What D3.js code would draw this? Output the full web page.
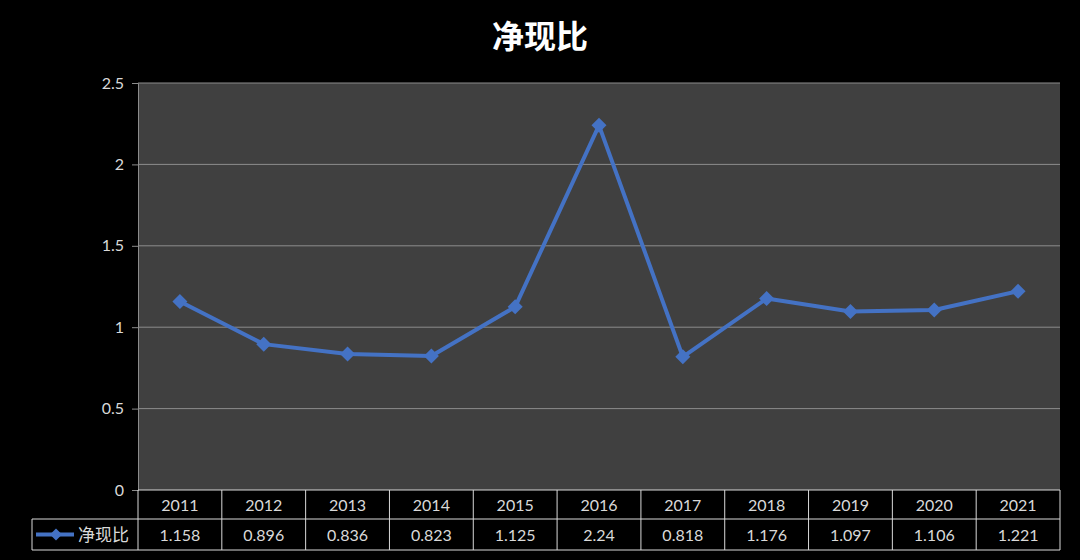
<!DOCTYPE html>
<html><head><meta charset="utf-8">
<script src="https://cdn.jsdelivr.net/npm/d3@7"></script>
<style>
html,body{margin:0;padding:0;background:#000;}
svg{display:block;}
</style></head>
<body>
<svg id="chart" width="1080" height="560"></svg>
<script>
const title = "净现比";
const seriesName = "净现比";
const categories = ["2011","2012","2013","2014","2015","2016","2017","2018","2019","2020","2021"];
const values = [1.158,0.896,0.836,0.823,1.125,2.24,0.818,1.176,1.097,1.106,1.221];
const valueLabels = ["1.158","0.896","0.836","0.823","1.125","2.24","0.818","1.176","1.097","1.106","1.221"];
const yTicks = [0,0.5,1,1.5,2,2.5];

const svg = d3.select("#chart");
const W = 1080, H = 560;
const L = 138, R = 1060, T = 83, B = 490;
const row1 = 519, row2 = 550, legendLeft = 32;
const numFont = "Lato, 'Open Sans', 'Noto Sans', sans-serif";
const cjkFont = "'Noto Sans CJK SC', sans-serif";
const textColor = "#d9d9d9";
const lineColor = "#4472C4";

svg.append("rect").attr("width",W).attr("height",H).attr("fill","#000");

svg.append("text").attr("x",540).attr("y",48).attr("text-anchor","middle")
  .attr("fill","#ffffff").attr("font-family",cjkFont).attr("font-weight","bold")
  .attr("font-size",32).text(title);

const x = d3.scaleBand().domain(categories).range([L,R]);
const y = d3.scaleLinear().domain([0,2.5]).range([B,T]);

svg.append("rect").attr("x",L).attr("y",T).attr("width",R-L).attr("height",B-T).attr("fill","#404040");

const yAxis = d3.axisLeft(y).tickValues(yTicks).tickSize(6).tickPadding(8)
  .tickFormat(d => d3.format("")(d));
const gy = svg.append("g").attr("transform",`translate(${L},0)`).call(yAxis);
gy.select(".domain").attr("stroke","#8c8c8c");
gy.selectAll(".tick line").attr("stroke","#8c8c8c");
gy.selectAll(".tick text").attr("fill",textColor).attr("font-family",numFont).attr("font-size",16);

// gridlines
svg.append("g").selectAll("line").data(yTicks.filter(d=>d>0)).join("line")
  .attr("x1",L).attr("x2",R).attr("y1",d=>y(d)).attr("y2",d=>y(d))
  .attr("stroke","#8c8c8c").attr("stroke-width",1);

// line
const line = d3.line().x((d,i)=>x(categories[i])+x.bandwidth()/2).y(d=>y(d));
svg.append("path").datum(values).attr("d",line).attr("fill","none")
  .attr("stroke",lineColor).attr("stroke-width",4).attr("stroke-linejoin","round");

svg.append("g").selectAll("path").data(values).join("path")
  .attr("transform",(d,i)=>`translate(${x(categories[i])+x.bandwidth()/2},${y(d)})`)
  .attr("d","M0,-7.5L7.5,0L0,7.5L-7.5,0Z").attr("fill",lineColor);

// data table
const tg = svg.append("g");
const gridC = "#d9d9d9";
tg.append("line").attr("x1",L).attr("x2",R).attr("y1",B).attr("y2",B).attr("stroke",gridC);
tg.append("line").attr("x1",legendLeft).attr("x2",R).attr("y1",row1).attr("y2",row1).attr("stroke",gridC);
tg.append("line").attr("x1",legendLeft).attr("x2",R).attr("y1",row2).attr("y2",row2).attr("stroke",gridC);
tg.append("line").attr("x1",legendLeft).attr("x2",legendLeft).attr("y1",row1).attr("y2",row2).attr("stroke",gridC);
const edges = categories.map(c=>x(c)).concat([R]);
tg.selectAll("line.v").data(edges).join("line").attr("class","v")
  .attr("x1",d=>d).attr("x2",d=>d).attr("y1",B).attr("y2",row2).attr("stroke",gridC);

tg.selectAll("text.cat").data(categories).join("text").attr("class","cat")
  .attr("x",d=>x(d)+x.bandwidth()/2).attr("y",(B+row1)/2+6).attr("text-anchor","middle")
  .attr("fill",textColor).attr("font-family",numFont).attr("font-size",16).text(d=>d);
tg.selectAll("text.val").data(valueLabels).join("text").attr("class","val")
  .attr("x",(d,i)=>x(categories[i])+x.bandwidth()/2).attr("y",(row1+row2)/2+6).attr("text-anchor","middle")
  .attr("fill",textColor).attr("font-family",numFont).attr("font-size",16).text(d=>d);

// legend key
const ly = (row1+row2)/2;
tg.append("line").attr("x1",36).attr("x2",74).attr("y1",ly).attr("y2",ly)
  .attr("stroke",lineColor).attr("stroke-width",4);
tg.append("path").attr("transform",`translate(56,${ly})`).attr("d","M0,-6L6,0L0,6L-6,0Z").attr("fill",lineColor);
tg.append("text").attr("x",78).attr("y",ly+6).attr("fill",textColor)
  .attr("font-family",cjkFont).attr("font-size",17).text(seriesName);
</script>
</body></html>
